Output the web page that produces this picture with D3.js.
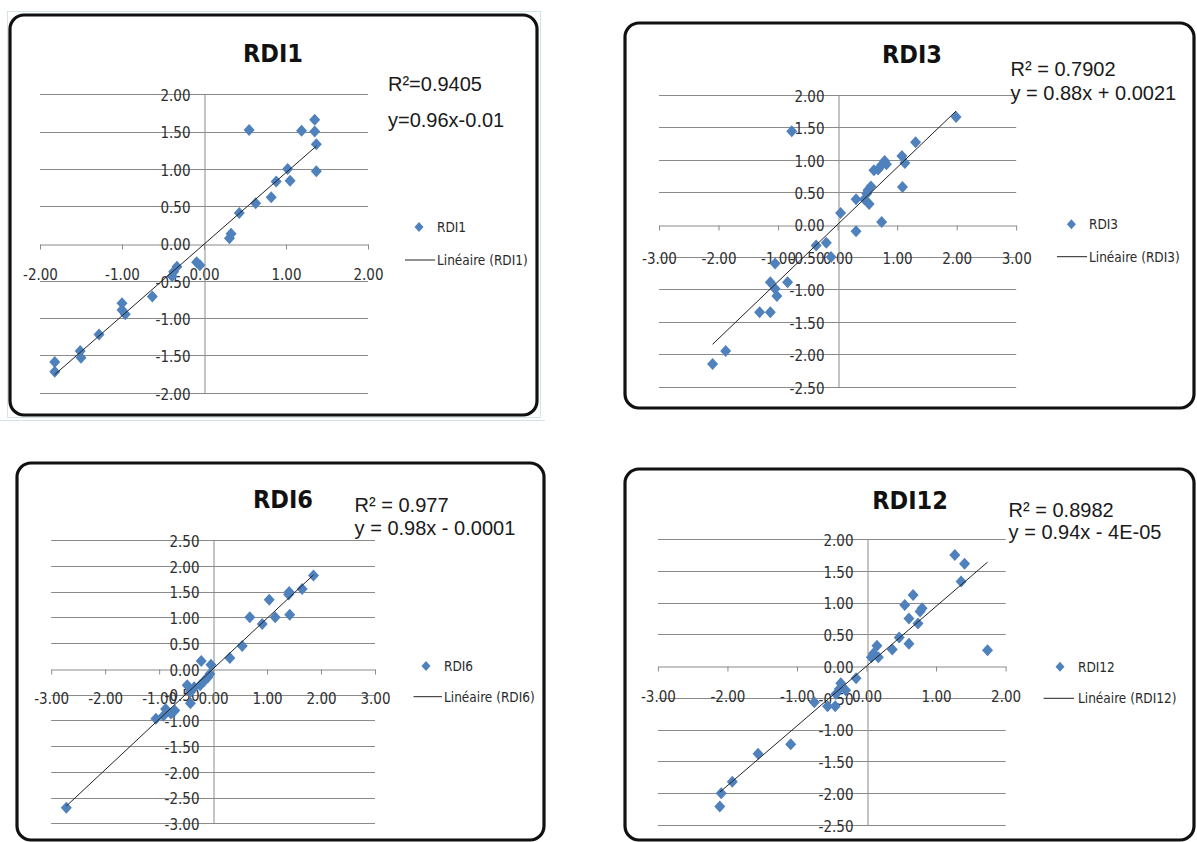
<!DOCTYPE html>
<html>
<head>
<meta charset="utf-8">
<script src="https://cdn.jsdelivr.net/npm/d3@7"></script>
<style>
  html, body { margin: 0; padding: 0; background: #fff; }
  svg { display: block; }
</style>
</head>
<body>
<svg id="chart" width="1197" height="842"></svg>
<script>
// ---------------- DATA ----------------
const titles = ["RDI1", "RDI3", "RDI6", "RDI12"];

const rdi1X = [-1.82,-1.82,-1.51,-1.50,-1.28,-1.00,-1.00,-0.96,-0.63,-0.33,-0.37,-0.39,-0.09,-0.05,0.31,0.33,0.43,0.55,0.63,0.82,0.88,1.02,1.05,1.19,1.35,1.35,1.37,1.37];
const rdi1Y = [-1.59,-1.72,-1.44,-1.53,-1.22,-0.80,-0.89,-0.95,-0.71,-0.31,-0.38,-0.44,-0.25,-0.29,0.07,0.13,0.41,1.52,0.54,0.62,0.83,1.00,0.84,1.51,1.50,1.66,1.33,0.97];

const rdi3X = [-0.77,1.99,1.31,1.08,1.13,0.79,0.74,0.68,0.61,0.82,1.09,0.56,0.51,0.49,0.45,0.53,0.31,0.05,0.74,0.31,-0.36,-0.19,-0.11,-1.05,-1.13,-0.84,-1.05,-1.02,-1.31,-1.13,-1.88,-2.10];
const rdi3Y = [1.44,1.66,1.27,1.06,0.95,0.98,0.92,0.85,0.84,0.93,0.58,0.59,0.53,0.48,0.39,0.32,0.39,0.18,0.04,-0.10,-0.32,-0.28,-0.50,-0.60,-0.89,-0.89,-0.99,-1.10,-1.35,-1.35,-1.95,-2.15];

const rdi6X = [-2.72,1.86,1.65,1.41,1.40,1.42,1.04,1.15,0.68,0.91,0.54,0.31,-0.22,-0.04,-0.06,-0.10,-0.17,-0.24,-0.48,-0.42,-0.42,-0.35,-0.71,-0.88,-0.92,-1.06,-0.78];
const rdi6Y = [-2.70,1.81,1.55,1.49,1.44,1.05,1.34,1.00,1.00,0.87,0.44,0.21,0.15,0.08,-0.10,-0.17,-0.24,-0.32,-0.32,-0.45,-0.67,-0.36,-0.81,-0.78,-0.91,-0.97,-0.87];

const rdi12X = [1.27,1.41,1.36,1.74,0.67,0.55,0.80,0.77,0.61,0.74,0.61,0.47,0.37,0.15,0.10,0.17,0.07,-0.15,-0.37,-0.39,-0.30,-0.44,-0.75,-0.56,-0.45,-1.09,-1.56,-1.93,-2.09,-2.11];
const rdi12Y = [1.75,1.61,1.33,0.25,1.12,0.96,0.91,0.86,0.75,0.67,0.35,0.45,0.26,0.32,0.20,0.14,0.14,-0.19,-0.27,-0.36,-0.38,-0.44,-0.57,-0.63,-0.63,-1.23,-1.38,-1.82,-2.00,-2.21];

// trendline coefficients (slope, intercept) as shown in each chart
const slopes = [0.96, 0.88, 0.98, 0.94];
const intercepts = [-0.01, 0.0021, -0.0001, -0.00004];

const r2Labels = ["R²=0.9405", "R² = 0.7902", "R² = 0.977", "R² = 0.8982"];
const eqLabels = ["y=0.96x-0.01", "y = 0.88x + 0.0021", "y = 0.98x - 0.0001", "y = 0.94x - 4E-05"];
const legendSeries = ["RDI1", "RDI3", "RDI6", "RDI12"];
const legendTrend = ["Linéaire (RDI1)", "Linéaire (RDI3)", "Linéaire (RDI6)", "Linéaire (RDI12)"];

const xTicks1 = [-2, -1, 0, 1, 2];
const yTicks1 = [-2, -1.5, -1, -0.5, 0, 0.5, 1, 1.5, 2];
const xTicks3 = [-3, -2, -1, 0, 1, 2, 3];
const yTicks3 = [-2.5, -2, -1.5, -1, -0.5, 0, 0.5, 1, 1.5, 2];
const xTicks6 = [-3, -2, -1, 0, 1, 2, 3];
const yTicks6 = [-3, -2.5, -2, -1.5, -1, -0.5, 0, 0.5, 1, 1.5, 2, 2.5];
const xTicks12 = [-3, -2, -1, 0, 1, 2];
const yTicks12 = [-2.5, -2, -1.5, -1, -0.5, 0, 0.5, 1, 1.5, 2];

// ---------------- LAYOUT ----------------
const panels = [
  { xs: rdi1X, ys: rdi1Y, xt: xTicks1, yt: yTicks1,
    frame: [10, 15, 537, 415], xr: [40, 368], yr: [392.7, 94.3], lblOff: 35,
    title: [273, 62], r2: [388, 91], eq: [388, 127],
    leg: { mx: 419, my: 227, tx: 437, ly: 260, l1: 405, l2: 435 } },
  { xs: rdi3X, ys: rdi3Y, xt: xTicks3, yt: yTicks3,
    frame: [625, 23, 1194, 408], xr: [659, 1016.2], yr: [386.7, 95], lblOff: 38,
    title: [912, 63], r2: [1010.5, 76], eq: [1010.5, 100],
    leg: { mx: 1071.4, my: 224.3, tx: 1089, ly: 256.7, l1: 1057, l2: 1087 } },
  { xs: rdi6X, ys: rdi6Y, xt: xTicks6, yt: yTicks6,
    frame: [17, 463, 544, 840], xr: [51.2, 375], yr: [823.3, 540], lblOff: 34,
    title: [283, 508], r2: [354.6, 511.7], eq: [354.6, 535],
    leg: { mx: 426, my: 666, tx: 444, ly: 696.7, l1: 413.5, l2: 442 } },
  { xs: rdi12X, ys: rdi12Y, xt: xTicks12, yt: yTicks12,
    frame: [625, 469, 1194, 840], xr: [657.9, 1005.6], yr: [825, 539], lblOff: 35,
    title: [910, 509], r2: [1008.6, 516.7], eq: [1008.6, 539.3],
    leg: { mx: 1060, my: 666.7, tx: 1078, ly: 698.3, l1: 1043.6, l2: 1074 } }
];

const BLUE = "#4F81BD";
const GRID = "#8a8a8a";
const NARROW = "'Liberation Sans Narrow', 'DejaVu Sans Condensed', 'Liberation Sans', sans-serif";
const ARIAL = "'Liberation Sans', Arial, sans-serif";
const diamond = "M0,-6L5.5,0L0,6L-5.5,0Z";

const fmt = d3.formatLocale({decimal: ".", thousands: ",", grouping: [3], currency: ["", ""], minus: "-"}).format(".2f");

const svg = d3.select("#chart");
svg.append("rect").attr("width", 1197).attr("height", 842).attr("fill", "#fff");

// faint outer selection borders (as in the source screenshot)
svg.append("rect").attr("x", 7.5).attr("y", 11.5).attr("width", 533).attr("height", 406)
  .attr("fill", "none").attr("stroke", "#d5e2e6").attr("stroke-width", 1);
svg.append("line").attr("x1", 0).attr("x2", 545).attr("y1", 420.5).attr("y2", 420.5)
  .attr("stroke", "#d5e2e6");

panels.forEach((p, i) => {
  const g = svg.append("g");
  const [fx1, fy1, fx2, fy2] = p.frame;

  const x = d3.scaleLinear().domain(d3.extent(p.xt)).range(p.xr);
  const y = d3.scaleLinear().domain(d3.extent(p.yt)).range(p.yr);

  // frame
  g.append("rect")
    .attr("x", fx1).attr("y", fy1).attr("width", fx2 - fx1).attr("height", fy2 - fy1)
    .attr("rx", 14).attr("ry", 14)
    .attr("fill", "#fff").attr("stroke", "#111").attr("stroke-width", 3.2);

  // horizontal gridlines
  g.append("g").selectAll("line").data(p.yt.filter(v => v !== 0)).join("line")
    .attr("x1", p.xr[0]).attr("x2", p.xr[1])
    .attr("y1", d => Math.round(y(d)) + 0.5).attr("y2", d => Math.round(y(d)) + 0.5)
    .attr("stroke", GRID).attr("stroke-width", 1);

  // x axis at y = 0
  const xAxis = d3.axisBottom(x).tickValues(p.xt).tickFormat(fmt)
    .tickSize(5).tickSizeOuter(0).tickPadding(p.lblOff - 5 - 10.5);
  const xg = g.append("g").attr("transform", `translate(0,${Math.round(y(0)) + 0.5})`).call(xAxis);
  xg.select(".domain").attr("stroke", GRID);
  xg.selectAll(".tick line").attr("stroke", GRID);
  xg.selectAll(".tick text").attr("fill", "#2e2e2e")
    .style("font-family", NARROW).style("font-size", "15px");

  // y axis at x = 0
  const yAxis = d3.axisLeft(y).tickValues(p.yt).tickFormat(fmt)
    .tickSize(0).tickSizeOuter(0).tickPadding(14);
  const yg = g.append("g").attr("transform", `translate(${Math.round(x(0)) + 0.5},0)`).call(yAxis);
  yg.select(".domain").attr("stroke", GRID);
  yg.selectAll(".tick text").attr("fill", "#2e2e2e").attr("dy", "0.42em")
    .style("font-family", NARROW).style("font-size", "15px");

  // points
  const pts = p.xs.map((v, k) => [v, p.ys[k]]);
  g.append("g").selectAll("path").data(pts).join("path")
    .attr("d", diamond)
    .attr("transform", d => `translate(${x(d[0])},${y(d[1])})`)
    .attr("fill", BLUE);

  // trend line
  const [xmin, xmax] = d3.extent(p.xs);
  const f = v => slopes[i] * v + intercepts[i];
  g.append("line")
    .attr("x1", x(xmin)).attr("y1", y(f(xmin)))
    .attr("x2", x(xmax)).attr("y2", y(f(xmax)))
    .attr("stroke", "#222").attr("stroke-width", 1);

  // title
  g.append("text").attr("x", p.title[0]).attr("y", p.title[1])
    .attr("text-anchor", "middle")
    .style("font-family", NARROW).style("font-weight", "bold").style("font-size", "25px")
    .attr("fill", "#111").text(titles[i]);

  // regression labels
  g.append("text").attr("x", p.r2[0]).attr("y", p.r2[1])
    .style("font-family", ARIAL).style("font-size", "20px").attr("fill", "#1a1a1a")
    .text(r2Labels[i]);
  g.append("text").attr("x", p.eq[0]).attr("y", p.eq[1])
    .style("font-family", ARIAL).style("font-size", "20px").attr("fill", "#1a1a1a")
    .text(eqLabels[i]);

  // legend
  const L = p.leg;
  g.append("path").attr("d", "M0,-5L4.5,0L0,5L-4.5,0Z")
    .attr("transform", `translate(${L.mx},${L.my})`).attr("fill", BLUE);
  g.append("text").attr("x", L.tx).attr("y", L.my + 5)
    .style("font-family", NARROW).style("font-size", "13.5px").attr("fill", "#2a2a2a")
    .text(legendSeries[i]);
  g.append("line").attr("x1", L.l1).attr("x2", L.l2).attr("y1", L.ly).attr("y2", L.ly)
    .attr("stroke", "#222").attr("stroke-width", 1);
  g.append("text").attr("x", L.tx).attr("y", L.ly + 5)
    .style("font-family", NARROW).style("font-size", "13.5px").attr("fill", "#2a2a2a")
    .text(legendTrend[i]);
});
</script>
</body>
</html>
